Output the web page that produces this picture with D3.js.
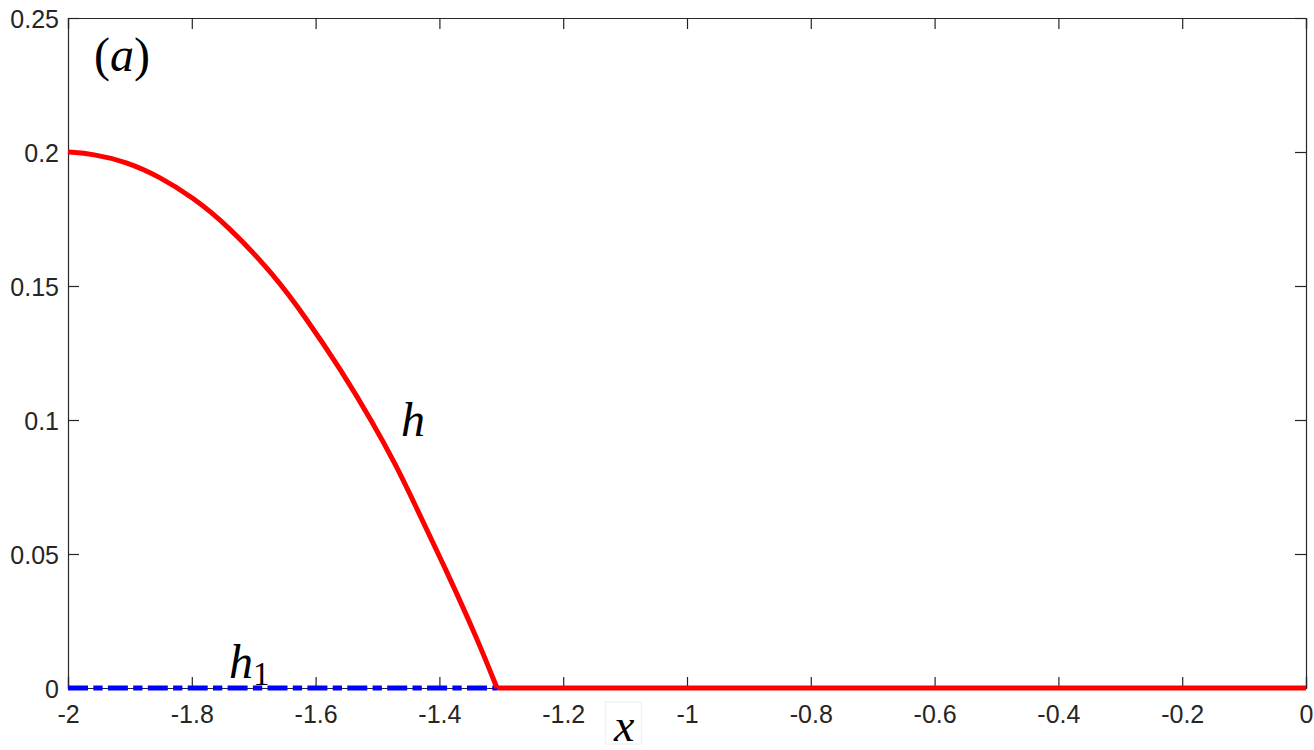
<!DOCTYPE html>
<html>
<head>
<meta charset="utf-8">
<script src="https://cdn.jsdelivr.net/npm/d3@7"></script>
<style>
  html, body { margin: 0; padding: 0; background: #fff; }
  svg { display: block; }
</style>
</head>
<body>
<svg id="chart" width="1314" height="750"></svg>
<script>
// ---- data ----
const hCurveX = [-2, -1.960, -1.906, -1.852, -1.798, -1.744, -1.669, -1.615, -1.561, -1.507, -1.469, -1.443, -1.389, -1.338, -1.307];
const hCurveY = [0.200, 0.1993, 0.1964, 0.1908, 0.1830, 0.1730, 0.1547, 0.1379, 0.1194, 0.0988, 0.0826, 0.0701, 0.0440, 0.0179, 0];
const hFlatX = [-1.307, 0];
const hFlatY = [0, 0];
const h1X = [-2, -1.307];
const h1Y = [0, 0];
const xTicks = [-2, -1.8, -1.6, -1.4, -1.2, -1, -0.8, -0.6, -0.4, -0.2, 0];
const yTicks = [0, 0.05, 0.1, 0.15, 0.2, 0.25];

(function () {
// ---- layout ----
const svg = d3.select("#chart");
const pLeft = 68, pRight = 1306, pTop = 18, pBottom = 688;
const x = d3.scaleLinear().domain([-2, 0]).range([pLeft, pRight]);
const y = d3.scaleLinear().domain([0, 0.25]).range([pBottom, pTop]);
const axisColor = "#262626";
const tickLen = 11;

// axes frame and ticks
const gx = svg.append("g").attr("transform", `translate(0,${pBottom})`)
  .call(d3.axisBottom(x).tickValues(xTicks).tickSize(-tickLen)
    .tickFormat(d => String(+d.toFixed(1))));
const gy = svg.append("g").attr("transform", `translate(${pLeft},0)`)
  .call(d3.axisLeft(y).tickValues(yTicks).tickSize(-tickLen)
    .tickFormat(d => String(+d.toFixed(2))));
const gt = svg.append("g").attr("transform", `translate(0,${pTop})`)
  .call(d3.axisTop(x).tickValues(xTicks).tickSize(-tickLen).tickFormat(""));
const gr = svg.append("g").attr("transform", `translate(${pRight},0)`)
  .call(d3.axisRight(y).tickValues(yTicks).tickSize(-tickLen).tickFormat(""));

[gx, gy, gt, gr].forEach(g => {
  g.select(".domain").attr("stroke", axisColor).attr("stroke-width", 1.2);
  g.selectAll(".tick line").attr("stroke", axisColor).attr("stroke-width", 1.2);
  g.selectAll(".tick text").attr("fill", axisColor).attr("font-size", 25)
    .attr("font-family", "'Liberation Sans', Arial, sans-serif");
});
gx.selectAll(".tick text").attr("y", 17).attr("dy", "0.71em");
gy.selectAll(".tick text").attr("x", -9).attr("dy", "0.36em");

// ---- series ----
const pts = (xs, ys) => xs.map((v, i) => [v, ys[i]]);

svg.append("path")
  .datum(pts(h1X, h1Y))
  .attr("d", d3.line().x(d => x(d[0])).y(d => y(d[1])))
  .attr("fill", "none").attr("stroke", "#0000ff").attr("stroke-width", 5)
  .attr("stroke-dasharray", "20,5.3,9.3,5.3");

svg.append("path")
  .datum(pts(hCurveX, hCurveY))
  .attr("d", d3.line().x(d => x(d[0])).y(d => y(d[1])).curve(d3.curveBasis))
  .attr("fill", "none").attr("stroke", "#ff0000").attr("stroke-width", 5)
  .attr("stroke-linejoin", "round");

svg.append("path")
  .datum(pts(hFlatX, hFlatY))
  .attr("d", d3.line().x(d => x(d[0])).y(d => y(d[1])))
  .attr("fill", "none").attr("stroke", "#ff0000").attr("stroke-width", 5);

// ---- annotations ----
const serif = "'Liberation Serif', 'Times New Roman', serif";

const ta = svg.append("text").attr("x", 94).attr("y", 71)
  .attr("font-family", serif).attr("font-size", 48).attr("fill", "#000");
ta.append("tspan").text("(");
ta.append("tspan").attr("font-style", "italic").text("a");
ta.append("tspan").text(")");

svg.append("text").attr("x", x(-1.462)).attr("y", 436)
  .attr("font-family", serif).attr("font-size", 48).attr("font-style", "italic")
  .attr("fill", "#000").text("h");

const th1 = svg.append("text").attr("x", x(-1.740)).attr("y", 678)
  .attr("font-family", serif).attr("font-size", 48).attr("fill", "#000");
th1.append("tspan").attr("font-style", "italic").text("h");
th1.append("tspan").attr("font-size", 33).attr("dy", 7).text("1");

// x axis label with faint box
const xlCx = x(-1.103);
svg.append("rect").attr("x", xlCx - 18).attr("y", 702).attr("width", 36).attr("height", 42)
  .attr("fill", "#fff").attr("stroke", "#ececec").attr("stroke-width", 1);
svg.append("text").attr("x", xlCx + 1).attr("y", 741).attr("text-anchor", "middle")
  .attr("font-family", serif).attr("font-size", 46).attr("font-style", "italic")
  .attr("fill", "#000").text("x");
})();
</script>
</body>
</html>
